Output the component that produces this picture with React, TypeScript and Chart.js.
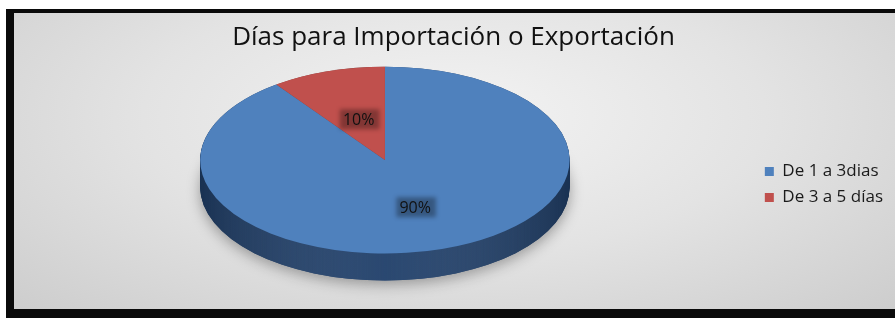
import React, { useEffect, useRef } from 'react';
import { Chart, registerables } from 'chart.js';

Chart.register(...registerables);

const chartTitle = 'Días para Importación o Exportación';
const categories = ['De 1 a 3dias', 'De 3 a 5 días'];
const values = [90, 10];
const sliceColors = ['#4f81bd', '#c0504d'];
const sideColors = ['#22416b', '#7d3331'];

const pie3d = {
  id: 'pie3d',
  beforeDatasetsDraw(chart: any, _args: any, opts: any) {
    const arcs = chart.getDatasetMeta(0).data;
    if (!arcs.length) return;
    const { x, y, outerRadius } = arcs[0].getProps(['x', 'y', 'outerRadius'], true);
    const sx = opts.stretch;
    const d = opts.depth;
    const ctx = chart.ctx;
    ctx.save();
    ctx.translate(x, 0);
    ctx.scale(sx, 1);
    ctx.translate(-x, 0);
    // soft shadow under the disc
    ctx.save();
    ctx.shadowColor = 'rgba(0,0,0,0.35)';
    ctx.shadowBlur = 14;
    ctx.shadowOffsetY = 4;
    ctx.fillStyle = opts.sideColors[0];
    ctx.beginPath();
    ctx.arc(x, y + d / 2, outerRadius, 0, Math.PI * 2);
    ctx.fill();
    ctx.restore();
    // extruded side
    for (let k = d; k >= 0; k--) {
      const cy = y - d / 2 + k;
      arcs.forEach((a: any, i: number) => {
        const p = a.getProps(['startAngle', 'endAngle'], true);
        ctx.fillStyle = opts.sideColors[i % opts.sideColors.length];
        ctx.beginPath();
        ctx.moveTo(x, cy);
        ctx.arc(x, cy, outerRadius, p.startAngle, p.endAngle);
        ctx.closePath();
        ctx.fill();
      });
    }
    // side shading
    ctx.globalCompositeOperation = 'source-atop';
    const g = ctx.createLinearGradient(x - outerRadius, 0, x + outerRadius, 0);
    g.addColorStop(0, 'rgba(0,0,0,0.22)');
    g.addColorStop(0.5, 'rgba(255,255,255,0.04)');
    g.addColorStop(1, 'rgba(0,0,0,0.22)');
    ctx.fillStyle = g;
    ctx.fillRect(x - outerRadius - 20, y - outerRadius - d, outerRadius * 2 + 40, outerRadius * 2 + d * 3);
    ctx.restore();
    // top face transform
    ctx.save();
    ctx.translate(x, y - d / 2);
    ctx.scale(sx, 1);
    ctx.translate(-x, -y);
  },
  afterDatasetsDraw(chart: any, _args: any, opts: any) {
    const ctx = chart.ctx;
    ctx.restore();
    const arcs = chart.getDatasetMeta(0).data;
    if (!arcs.length) return;
    const data = chart.data.datasets[0].data as number[];
    const total = data.reduce((s, v) => s + v, 0);
    const sx = opts.stretch;
    const d = opts.depth;
    ctx.save();
    ctx.font = opts.labelFont;
    ctx.textAlign = 'center';
    ctx.textBaseline = 'middle';
    arcs.forEach((a: any, i: number) => {
      const p = a.getProps(['x', 'y', 'startAngle', 'endAngle', 'outerRadius'], true);
      const mid = (p.startAngle + p.endAngle) / 2;
      const r = p.outerRadius * opts.labelRadius[i];
      const lx = p.x + Math.cos(mid) * r * sx;
      const ly = p.y - d / 2 + Math.sin(mid) * r;
      const txt = Math.round((data[i] / total) * 100) + '%';
      const w = ctx.measureText(txt).width;
      ctx.save();
      ctx.filter = 'blur(2px)';
      ctx.fillStyle = 'rgba(0,0,0,0.32)';
      ctx.fillRect(lx - w / 2 - 3, ly - 10, w + 8, 20);
      ctx.restore();
      ctx.fillStyle = '#111111';
      ctx.fillText(txt, lx, ly + 1);
    });
    ctx.restore();
  },
};

export default function App() {
  const ref = useRef<HTMLCanvasElement | null>(null);
  useEffect(() => {
    const prevMargin = document.body.style.margin;
    const prevOverflow = document.documentElement.style.overflow;
    document.body.style.margin = '0';
    document.documentElement.style.overflow = 'hidden';
    if (!ref.current) return;
    const chart = new Chart(ref.current, {
      type: 'pie',
      data: {
        labels: categories,
        datasets: [
          {
            data: values,
            backgroundColor: sliceColors,
            borderWidth: 0,
            clip: false as any,
          },
        ],
      },
      options: {
        responsive: false,
        animation: false,
        layout: { padding: { top: 0, bottom: 42, left: 0, right: 2 } },
        plugins: {
          title: {
            display: true,
            text: chartTitle,
            color: '#111111',
            font: { family: 'Open Sans', size: 26, weight: 'normal', lineHeight: 1.2 },
            padding: { top: 9, bottom: 27 },
          },
          legend: {
            position: 'right',
            fullSize: false,
            title: { display: true, text: '', font: { size: 1, lineHeight: 1 }, padding: { top: 21, bottom: 0 } },
            labels: {
              boxWidth: 9,
              boxHeight: 9,
              color: '#1a1a1a',
              font: { family: 'Open Sans', size: 17 },
              padding: 9,
            },
          },
          tooltip: { enabled: false },
          pie3d: {
            stretch: 1.978,
            depth: 27,
            sideColors,
            labelRadius: [0.53, 0.46],
            labelFont: '16px "Open Sans"',
          },
        } as any,
      },
      plugins: [pie3d],
    });
    return () => {
      chart.destroy();
      document.body.style.margin = prevMargin;
      document.documentElement.style.overflow = prevOverflow;
    };
  }, []);

  return (
    <div style={{ position: 'fixed', left: 0, top: 0, width: '100vw', height: '100vh', background: '#ffffff', overflow: 'hidden' }}>
      <div style={{ position: 'absolute', left: 6, top: 9, width: 8, height: 309, background: '#0a0a0a' }} />
      <div style={{ position: 'absolute', left: 6, top: 9, right: 0, height: 4, background: '#0a0a0a' }} />
      <div style={{ position: 'absolute', left: 6, top: 309, right: 0, height: 9, background: '#0a0a0a' }} />
      <div
        style={{
          position: 'absolute',
          left: 14,
          top: 13,
          right: 0,
          height: 296,
          background: 'radial-gradient(ellipse at 50% 35%, #f3f3f3 0%, #e3e3e3 50%, #cdcdcd 100%)',
        }}
      />
      <canvas ref={ref} width={881} height={296} style={{ position: 'absolute', left: 14, top: 13, display: 'block' }} />
    </div>
  );
}
